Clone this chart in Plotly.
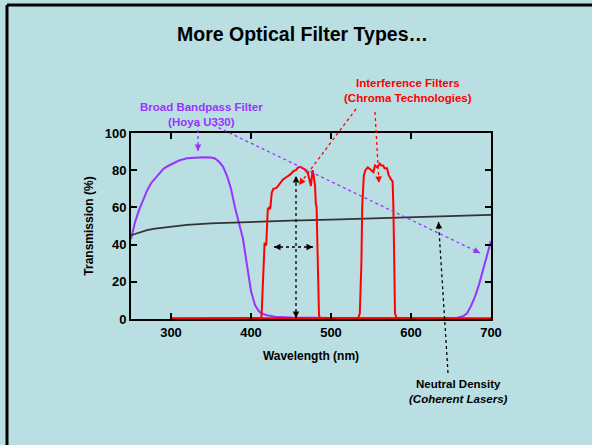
import math
import plotly.graph_objects as go

# ---------------- data ----------------
wl_broad = [250, 255, 260, 265, 270, 275, 280, 285, 290, 295, 300, 310, 320, 330, 340, 350, 355, 360,
            365, 370, 375, 380, 385, 390, 395, 400, 405, 410, 415, 420, 430, 450, 500, 550, 600, 650,
            657, 665, 670, 675, 680, 685, 690, 695, 700]
t_broad = [43, 52, 58.5, 64, 69, 73, 75.5, 78, 80.5, 82, 83, 85.2, 86.4, 86.9, 87, 86.8, 86.3, 84.5,
           82, 77, 70, 60, 52, 43, 29, 15, 7.5, 4, 2.7, 2, 1.2, 0.8, 0.6, 0.5, 0.5, 0.5,
           0.6, 1.5, 3, 7, 12, 18.5, 26, 34, 42]

wl_nd = [250, 260, 270, 280, 300, 320, 350, 400, 450, 500, 550, 600, 650, 700]
t_nd = [45, 46.5, 47.8, 48.6, 49.8, 50.6, 51.4, 52.3, 52.9, 53.4, 54, 54.6, 55.3, 56]

wl_if1 = [300, 350, 400, 410, 413, 414, 416, 417, 419, 420, 421, 423, 424, 426, 428, 432, 436, 440,
          445, 450, 453, 456, 459, 462, 465, 467, 469, 471, 473, 475, 476, 477, 478, 480, 481, 482,
          483, 484, 485, 486, 500, 600, 700]
t_if1 = [0.3, 0.3, 0.3, 0.4, 0.5, 10, 38, 41, 39.5, 56, 59, 60, 59, 68, 70, 70.5, 73, 75,
         76.5, 78, 79.5, 80, 81.5, 81.8, 81, 80.5, 79.5, 78.5, 75, 71.5, 76, 80, 78, 72, 62, 60,
         40, 10, 2, 0.5, 0.3, 0.3, 0.3]

wl_if2 = [300, 500, 534, 536, 538, 539, 540, 541, 543, 546, 549, 551, 553, 555, 558, 561, 563, 565,
          567, 570, 572, 575, 577, 578, 579, 580, 582, 600, 700]
t_if2 = [0.3, 0.3, 0.5, 3, 30, 60, 72, 77, 80, 81.5, 80.5, 79.5, 79, 82.5, 81.5, 83.5, 82.5, 82.5,
         81, 81, 77.5, 75, 74, 60, 20, 3, 0.5, 0.3, 0.3]

x_ticks = [300, 400, 500, 600, 700]
y_ticks = [0, 20, 40, 60, 80, 100]

# ---------------- style ----------------
BG = "#B9DFE2"
PURPLE = "#9933FF"
RED = "#FF0000"
FONT = "Arial, Liberation Sans, sans-serif"

W, H = 592, 445
ML, MR, MT, MB = 131, 101, 133, 126
PW, PH = W - ML - MR, H - MT - MB


def px(x):
    return (x - ML) / PW


def py(y):
    return (H - MB - y) / PH


fig = go.Figure()
fig.add_trace(go.Scatter(x=wl_broad, y=t_broad, mode="lines",
                         line=dict(color=PURPLE, width=2), name="Hoya U330"))
fig.add_trace(go.Scatter(x=wl_nd, y=t_nd, mode="lines",
                         line=dict(color="#333333", width=1.7), name="Neutral Density"))
fig.add_trace(go.Scatter(x=wl_if1, y=t_if1, mode="lines",
                         line=dict(color=RED, width=2), name="Interference 1"))
fig.add_trace(go.Scatter(x=wl_if2, y=t_if2, mode="lines",
                         line=dict(color=RED, width=2), name="Interference 2"))

shapes = []
annotations = []

# slide border (left and top)
shapes.append(dict(type="line", xref="paper", yref="paper", x0=px(7), y0=py(5), x1=px(7), y1=py(H + 5),
                   line=dict(color="black", width=3)))
shapes.append(dict(type="line", xref="paper", yref="paper", x0=px(7), y0=py(5), x1=px(W + 5), y1=py(5),
                   line=dict(color="black", width=3)))


def dotted_arrow(x0, y0, x1, y1, color, head_end=True, head_start=False):
    shapes.append(dict(type="line", xref="paper", yref="paper",
                       x0=px(x0), y0=py(y0), x1=px(x1), y1=py(y1),
                       line=dict(color=color, width=1.3, dash="dot")))
    L = math.hypot(x1 - x0, y1 - y0)
    ux, uy = (x1 - x0) / L, (y1 - y0) / L
    ends = []
    if head_end:
        ends.append((x1, y1, -ux, -uy))
    if head_start:
        ends.append((x0, y0, ux, uy))
    for (tx, ty, dx, dy) in ends:
        annotations.append(dict(xref="paper", yref="paper", x=px(tx), y=py(ty), text="",
                                showarrow=True, arrowhead=2, arrowsize=1, arrowwidth=1.3,
                                arrowcolor=color, ax=dx * 7, ay=dy * 7, standoff=0))


# purple arrows
dotted_arrow(198, 124, 198, 151, PURPLE)
dotted_arrow(213, 125, 480, 253, PURPLE)
# red arrows
dotted_arrow(356, 109, 299, 185, RED)
dotted_arrow(375, 112, 379, 183, RED)
# black arrows
dotted_arrow(296, 318, 296, 176, "black", head_end=True, head_start=True)
dotted_arrow(274, 247, 313, 247, "black", head_end=True, head_start=True)
dotted_arrow(448, 373, 438.5, 222, "black")

# texts
annotations.append(dict(xref="paper", yref="paper", x=px(302), y=py(34), text="<b>More Optical Filter Types…</b>",
                        showarrow=False, font=dict(size=19.5, color="black", family=FONT),
                        xanchor="center", yanchor="middle"))
annotations.append(dict(xref="paper", yref="paper", x=px(201), y=py(114),
                        text="<b>Broad Bandpass Filter</b><br><b>(Hoya U330)</b>",
                        showarrow=False, font=dict(size=11.5, color=PURPLE, family=FONT),
                        xanchor="center", yanchor="middle"))
annotations.append(dict(xref="paper", yref="paper", x=px(408), y=py(90),
                        text="<b>Interference Filters</b><br><b>(Chroma Technologies)</b>",
                        showarrow=False, font=dict(size=11.5, color=RED, family=FONT),
                        xanchor="center", yanchor="middle"))
annotations.append(dict(xref="paper", yref="paper", x=px(458), y=py(391),
                        text="<b>Neutral Density</b><br><b><i>(Coherent Lasers)</i></b>",
                        showarrow=False, font=dict(size=11.5, color="black", family=FONT),
                        xanchor="center", yanchor="middle"))

axis_common = dict(showline=True, linecolor="black", linewidth=2, mirror="ticks",
                   ticks="inside", ticklen=6, tickwidth=2, tickcolor="black",
                   showgrid=False, zeroline=False,
                   tickfont=dict(size=13, color="black", family=FONT))

fig.update_layout(
    width=W, height=H,
    margin=dict(l=ML, r=MR, t=MT, b=MB),
    paper_bgcolor=BG, plot_bgcolor=BG,
    showlegend=False,
    font=dict(family=FONT, color="black"),
    xaxis=dict(range=[250, 700], tickvals=x_ticks, ticktext=[f"<b>{v}</b>" for v in x_ticks],
               title=dict(text="<b>Wavelength (nm)</b>", font=dict(size=12, family=FONT, color="black"),
                          standoff=13),
               **axis_common),
    yaxis=dict(range=[0, 100], tickvals=y_ticks, ticktext=[f"<b>{v}</b>" for v in y_ticks],
               title=dict(text="<b>Transmission (%)</b>", font=dict(size=12, family=FONT, color="black"),
                          standoff=8),
               **axis_common),
    shapes=shapes,
    annotations=annotations,
)

fig.write_html("out.html", config={"displayModeBar": False},
               post_script="document.body.style.margin='0';document.body.style.overflow='hidden';")
